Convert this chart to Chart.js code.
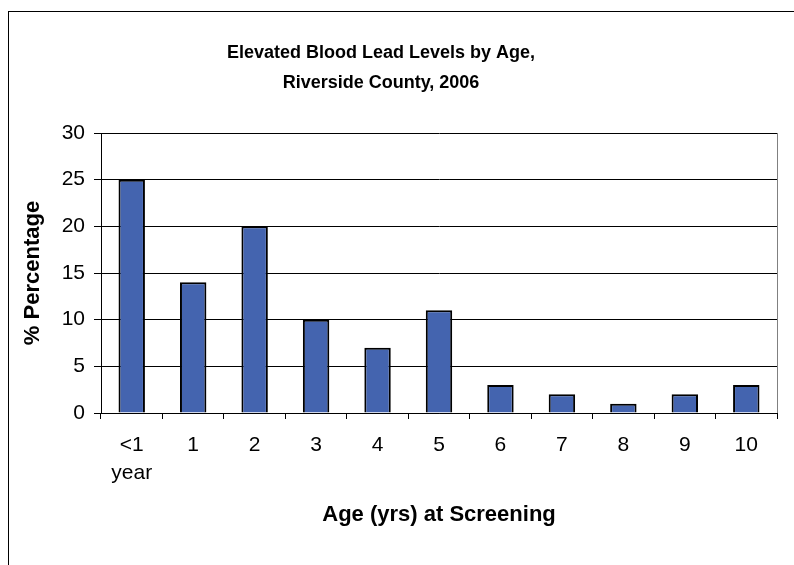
<!DOCTYPE html>
<html>
<head>
<meta charset="utf-8">
<script src="https://cdn.jsdelivr.net/npm/chart.js@4.4.1/dist/chart.umd.min.js"></script>
<style>
  html, body { margin: 0; padding: 0; background: #fff; }
  #wrap { width: 794px; height: 565px; position: relative; }
</style>
</head>
<body>
<div id="wrap"><canvas id="myChart" width="794" height="565"></canvas></div>
<script>
const edades = [["<1", "year"], "1", "2", "3", "4", "5", "6", "7", "8", "9", "10"];
const porcentajes = [25, 14, 20, 10, 7, 11, 3, 2, 1, 2, 3];
const titulo = ["Elevated Blood Lead Levels by Age,", "Riverside County, 2006"];
const tituloX = "Age (yrs) at Screening";
const tituloY = "% Percentage";

const fuente = "'Liberation Sans', Arial, sans-serif";

// marco exterior, borde del area del grafico y titulo
const marco = {
  id: "marco",
  beforeDraw(chart) {
    const ctx = chart.ctx;
    ctx.save();
    ctx.strokeStyle = "#000";
    ctx.lineWidth = 1;
    ctx.strokeRect(8.5, 11.5, 900, 700);
    ctx.fillStyle = "#000";
    ctx.font = "bold 18px " + fuente;
    ctx.textAlign = "center";
    ctx.textBaseline = "middle";
    ctx.fillText(titulo[0], 381, 53);
    ctx.fillText(titulo[1], 381, 83);
    ctx.restore();
  },
  afterDatasetsDraw(chart) {
    const a = chart.chartArea;
    const ctx = chart.ctx;
    ctx.save();
    ctx.strokeStyle = "#808080";
    ctx.lineWidth = 1;
    ctx.beginPath();
    ctx.moveTo(Math.round(a.right) + 0.5, a.top);
    ctx.lineTo(Math.round(a.right) + 0.5, a.bottom);
    ctx.stroke();
    ctx.restore();
  }
};

const config = {
  type: "bar",
  data: {
    labels: edades,
    datasets: [{
      data: porcentajes,
      backgroundColor: "#4464AF",
      borderColor: "#000",
      borderWidth: 2,
      barPercentage: 0.43,
      categoryPercentage: 1
    }]
  },
  options: {
    responsive: false,
    animation: false,
    layout: { padding: { top: 133, right: 17, bottom: 0, left: 0 } },
    plugins: { legend: { display: false }, tooltip: { enabled: false } },
    scales: {
      x: {
        afterFit(s) { s.height = 152; },
        grid: { drawOnChartArea: false, color: "#000", tickLength: 6, offset: true },
        border: { color: "#000", width: 1 },
        ticks: { color: "#000", font: { family: fuente, size: 21, lineHeight: 1.35 }, padding: 12, maxRotation: 0 },
        title: { display: true, text: tituloX, color: "#000", font: { family: fuente, size: 22, weight: "bold" }, padding: { bottom: 37 } }
      },
      y: {
        min: 0,
        max: 30,
        afterFit(s) { s.width = 101; },
        ticks: { stepSize: 5, color: "#000", font: { family: fuente, size: 21 }, padding: 9 },
        grid: { color: "#000", tickLength: 7 },
        border: { color: "#000", width: 1 },
        title: { display: true, text: tituloY, color: "#000", font: { family: fuente, size: 22, weight: "bold" }, padding: { top: 20 } }
      }
    }
  },
  plugins: [marco]
};

const myChart = document.querySelector("#myChart");
new Chart(myChart, config);
</script>
</body>
</html>
